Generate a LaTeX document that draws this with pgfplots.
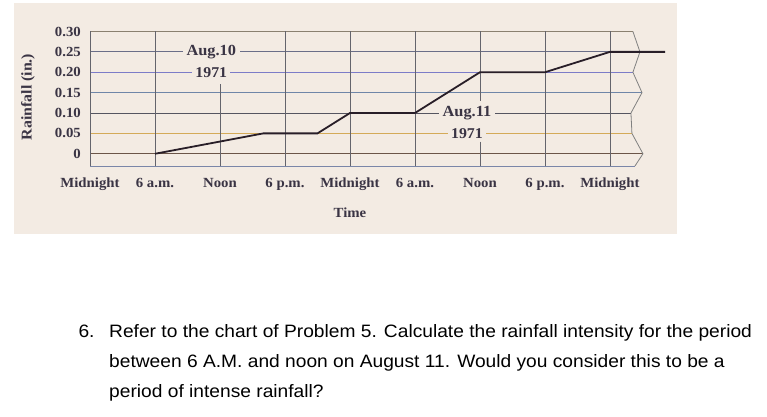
\documentclass[border=0pt]{standalone}
\usepackage{pgfplots}
\pgfplotsset{compat=1.18}
\usepackage{fontspec}
\setmainfont{Liberation Serif}
\newfontfamily\chartfont[FakeStretch=1.06]{Liberation Serif Bold}
\newfontfamily\qfont[FakeStretch=1.07]{Liberation Sans}
\definecolor{bgcol}{RGB}{243,235,227}
\definecolor{inkcol}{RGB}{58,52,68}
\definecolor{linecol}{RGB}{40,30,40}
\definecolor{gA}{RGB}{138,128,112}
\definecolor{gB}{RGB}{106,110,136}
\definecolor{gC}{RGB}{124,124,200}
\definecolor{gD}{RGB}{111,134,168}
\definecolor{gE}{RGB}{85,85,96}
\definecolor{gF}{RGB}{212,170,88}
\definecolor{gG}{RGB}{107,85,72}
\definecolor{gH}{RGB}{122,134,168}
\definecolor{vcol}{RGB}{100,100,108}
\begin{document}
\begin{tikzpicture}[x=1bp,y=1bp]
\path[use as bounding box] (0,0) rectangle (767,416);
\fill[bgcol] (14,413) rectangle (677,182);
\begin{axis}[
  at={(90bp,250bp)}, anchor=south west,
  scale only axis, width=543bp, height=134.5bp,
  xmin=0, xmax=50.13, ymin=-0.03, ymax=0.30,
  axis line style={draw=none}, tick style={draw=none},
  clip=false,
  xtick={0,6,12,18,24,30,36,42,48},
  xticklabels={Midnight,6 a.m.,Noon,6 p.m.,Midnight,6 a.m.,Noon,6 p.m.,Midnight},
  ytick={0,0.05,0.10,0.15,0.20,0.25,0.30},
  yticklabels={0,0.05,0.10,0.15,0.20,0.25,0.30},
  ticklabel style={font=\chartfont\fontsize{14}{15}\selectfont, text=inkcol},
  xticklabel style={anchor=base, yshift=-22bp},
  yticklabel style={anchor=east, inner sep=0pt, xshift=-9bp},
]
% horizontal lines ending at the torn right edge
\draw[gA, line width=0.8bp] (0,0.30) -- (50.12,0.30);
\draw[gB, line width=0.8bp] (0,0.25) -- (50.77,0.25);
\draw[gC, line width=0.8bp] (0,0.20) -- (50.12,0.20);
\draw[gD, line width=0.8bp] (0,0.15) -- (50.96,0.15);
\draw[gE, line width=0.8bp] (0,0.10) -- (49.94,0.10);
\draw[gF, line width=0.8bp] (0,0.05) -- (50.03,0.05);
\draw[gG, line width=0.8bp] (0,0) -- (51.05,0);
\draw[gH, line width=0.8bp] (0,-0.03) -- (50.31,-0.03);
% vertical lines
\draw[vcol, line width=0.8bp] (0,-0.03) -- (0,0.30);
\draw[vcol, line width=0.8bp] (6,-0.03) -- (6,0.30);
\draw[vcol, line width=0.8bp] (12,-0.03) -- (12,0.172);
\draw[vcol, line width=0.8bp] (18,-0.03) -- (18,0.30);
\draw[vcol, line width=0.8bp] (24,-0.03) -- (24,0.30);
\draw[vcol, line width=0.8bp] (30,-0.03) -- (30,0.30);
\draw[vcol, line width=0.8bp] (36,0.30) -- (36,0.13);
\draw[vcol, line width=0.8bp] (36,0.03) -- (36,-0.03);
\draw[vcol, line width=0.8bp] (42,-0.03) -- (42,0.30);
\draw[vcol, line width=0.8bp] (48,-0.03) -- (48,0.30);
% torn right edge
\draw[gray, line width=0.8bp] (50.12,0.30) -- (50.77,0.25) -- (50.12,0.20) -- (50.96,0.15) -- (49.94,0.10) -- (50.03,0.05) -- (51.05,0) -- (50.31,-0.03);
% labels on the lines
\node[fill=bgcol, inner xsep=4bp, inner ysep=1bp, font=\chartfont\fontsize{15.5}{16}\selectfont, text=inkcol] at (11.2,0.25) {Aug.10};
\node[fill=bgcol, inner xsep=3bp, inner ysep=1bp, font=\chartfont\fontsize{15}{15}\selectfont, text=inkcol] at (11.2,0.20) {1971};
\node[fill=bgcol, inner xsep=4bp, inner ysep=1bp, font=\chartfont\fontsize{15.5}{16}\selectfont, text=inkcol] at (34.8,0.10) {Aug.11};
\node[fill=bgcol, inner xsep=3bp, inner ysep=1bp, font=\chartfont\fontsize{15}{15}\selectfont, text=inkcol] at (34.8,0.05) {1971};
\addplot[color=linecol, line width=1.8bp] coordinates {
  (6,0) (16,0.05) (21,0.05) (24,0.10) (30,0.10) (36,0.20) (42,0.20) (48,0.25) (53.1,0.25)
};
\end{axis}
\node[rotate=90, font=\chartfont\fontsize{15}{15}\selectfont, text=inkcol] at (28,319) {Rainfall (in.)};
\node[font=\chartfont\fontsize{14}{15}\selectfont, text=inkcol] at (350,203) {Time};
\node[anchor=base west, inner sep=0pt, font=\qfont\fontsize{18}{20}\selectfont] at (78.3,79) {6.};
\node[anchor=base west, inner sep=0pt, font=\qfont\fontsize{18}{20}\selectfont] at (109,79) {Refer to the chart of Problem 5. Calculate the rainfall intensity for the period};
\node[anchor=base west, inner sep=0pt, font=\qfont\fontsize{18}{20}\selectfont] at (109,49) {between 6 A.M. and noon on August 11. Would you consider this to be a};
\node[anchor=base west, inner sep=0pt, font=\qfont\fontsize{18}{20}\selectfont] at (109,19) {period of intense rainfall?};
\end{tikzpicture}
\end{document}
